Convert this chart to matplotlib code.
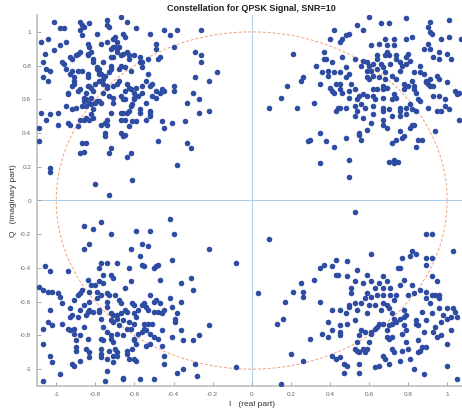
import matplotlib
matplotlib.use('Agg')
import numpy as np
from matplotlib import pyplot as plt

# received symbols (I, Q), grouped by quadrant
q1_pts = [
    (0.60, 1.09), (0.54, 1.04), (0.57, 1.01), (0.66, 1.05), (0.70, 1.05), (0.79, 1.08),
    (0.91, 1.06), (0.90, 1.03), (1.01, 1.07), (0.42, 1.01), (0.50, 0.99), (0.48, 0.98),
    (0.46, 0.96), (0.45, 0.94), (0.40, 0.96), (0.37, 0.88), (0.37, 0.84), (0.38, 0.84),
    (0.21, 0.87), (0.33, 0.80), (0.36, 0.76), (0.39, 0.77), (0.41, 0.82), (0.42, 0.76),
    (0.45, 0.76), (0.46, 0.85), (0.48, 0.79), (0.53, 0.84), (0.57, 0.83), (0.59, 0.82),
    (0.61, 0.92), (0.65, 0.93), (0.68, 0.96), (0.69, 0.92), (0.73, 0.92), (0.73, 0.96),
    (0.79, 0.96), (0.82, 0.97), (0.80, 0.87), (0.79, 0.85), (0.74, 0.86), (0.74, 0.84),
    (0.69, 0.88), (0.68, 0.86), (0.70, 0.86), (0.64, 0.86), (0.66, 0.81), (0.62, 0.81),
    (0.60, 0.80), (0.61, 0.77), (0.60, 0.72), (0.59, 0.73), (0.64, 0.84), (0.64, 0.78),
    (0.62, 0.74), (0.65, 0.73), (0.67, 0.79), (0.68, 0.76), (0.68, 0.72), (0.67, 0.68),
    (0.69, 0.67), (0.72, 0.74), (0.71, 0.81), (0.76, 0.77), (0.77, 0.80), (0.76, 0.82),
    (0.79, 0.81), (0.81, 0.83), (0.83, 0.76), (0.86, 0.80), (0.86, 0.76), (0.88, 0.75),
    (0.89, 0.71), (0.91, 0.72), (0.90, 0.69), (0.91, 0.68), (0.89, 0.70), (0.93, 0.68),
    (0.95, 0.74), (0.96, 0.72), (1.00, 0.70), (0.88, 0.90), (0.90, 0.93), (0.91, 0.90),
    (0.91, 1.00), (0.92, 0.99), (0.97, 0.96), (0.96, 0.88), (0.93, 0.85), (0.96, 0.84),
    (1.00, 0.87), (1.02, 0.84), (1.01, 0.97), (1.07, 0.96), (1.04, 0.65), (1.05, 0.63),
    (1.06, 0.64), (0.99, 0.60), (0.99, 0.56), (1.01, 0.54), (0.97, 0.53), (0.95, 0.53),
    (0.93, 0.62), (0.90, 0.55), (0.96, 0.62), (1.06, 0.48), (0.94, 0.41), (0.86, 0.59),
    (0.85, 0.60), (0.84, 0.64), (0.83, 0.68), (0.82, 0.71), (0.83, 0.66), (0.80, 0.68),
    (0.78, 0.69), (0.78, 0.66), (0.74, 0.72), (0.73, 0.63), (0.74, 0.61), (0.72, 0.60),
    (0.81, 0.57), (0.79, 0.55), (0.82, 0.54), (0.84, 0.53), (0.79, 0.51), (0.76, 0.55),
    (0.76, 0.53), (0.76, 0.50), (0.72, 0.50), (0.70, 0.54), (0.67, 0.53), (0.67, 0.55),
    (0.62, 0.56), (0.63, 0.60), (0.62, 0.62), (0.59, 0.62), (0.67, 0.61), (0.67, 0.66),
    (0.64, 0.66), (0.62, 0.66), (0.57, 0.63), (0.55, 0.62), (0.54, 0.60), (0.53, 0.56),
    (0.56, 0.57), (0.58, 0.55), (0.54, 0.53), (0.53, 0.50), (0.57, 0.49), (0.62, 0.51),
    (0.67, 0.48), (0.67, 0.45), (0.69, 0.43), (0.82, 0.45), (0.83, 0.45), (0.81, 0.43),
    (0.76, 0.41), (0.78, 0.38), (0.77, 0.37), (0.74, 0.36), (0.85, 0.36), (0.87, 0.36),
    (0.84, 0.32), (0.72, 0.34), (0.70, 0.23), (0.73, 0.24), (0.75, 0.23), (0.73, 0.22),
    (0.61, 0.46), (0.59, 0.42), (0.55, 0.40), (0.55, 0.39), (0.56, 0.36), (0.48, 0.37),
    (0.50, 0.24), (0.50, 0.14), (0.35, 0.22), (0.35, 0.40), (0.38, 0.35), (0.42, 0.32),
    (0.30, 0.36), (0.29, 0.35), (0.23, 0.55), (0.32, 0.58), (0.44, 0.55), (0.43, 0.53),
    (0.45, 0.55), (0.48, 0.55), (0.50, 0.61), (0.50, 0.65), (0.46, 0.64), (0.45, 0.66),
    (0.42, 0.64), (0.41, 0.65), (0.40, 0.67), (0.43, 0.69), (0.45, 0.69), (0.48, 0.73),
    (0.50, 0.75), (0.51, 0.69), (0.53, 0.66), (0.35, 0.69), (0.39, 0.74), (0.26, 0.73),
    (0.25, 0.71), (0.18, 0.68), (0.15, 0.61), (0.09, 0.55), (0.56, 0.80), (0.59, 0.77),
]

q2_pts = [
    (-1.01, 1.06), (-0.98, 1.02), (-0.96, 1.02), (-1.04, 0.96), (-1.08, 0.94), (-1.01, 0.89),
    (-0.98, 0.92), (-0.95, 0.94), (-1.06, 0.87), (-1.07, 0.82), (-1.05, 0.78), (-1.07, 0.73),
    (-1.04, 0.71), (-1.03, 0.77), (-0.97, 0.82), (-0.96, 0.81), (-0.95, 0.78), (-0.93, 0.85),
    (-0.92, 0.84), (-0.93, 0.75), (-0.92, 0.77), (-0.91, 0.73), (-0.91, 0.71), (-0.92, 0.68),
    (-0.94, 0.64), (-0.94, 0.63), (-0.95, 0.56), (-0.99, 0.52), (-1.08, 0.52), (-1.03, 0.51),
    (-1.05, 0.48), (-0.99, 0.45), (-0.94, 0.46), (-0.93, 0.45), (-1.09, 0.43), (-1.09, 0.35),
    (-1.03, 0.19), (-1.03, 0.17), (-0.89, 0.44), (-0.90, 0.55), (-0.88, 1.06), (-0.87, 1.04),
    (-0.86, 1.03), (-0.88, 1.01), (-0.87, 0.98), (-0.83, 1.05), (-0.89, 0.87), (-0.88, 0.88),
    (-0.90, 0.86), (-0.89, 0.77), (-0.87, 0.77), (-0.84, 0.93), (-0.83, 0.91), (-0.84, 0.87),
    (-0.84, 0.86), (-0.82, 0.88), (-0.81, 0.84), (-0.81, 0.82), (-0.79, 0.99), (-0.74, 1.07),
    (-0.74, 1.04), (-0.73, 1.03), (-0.77, 0.93), (-0.74, 0.94), (-0.72, 0.90), (-0.71, 0.91),
    (-0.70, 0.91), (-0.67, 1.09), (-0.71, 0.96), (-0.70, 0.97), (-0.66, 0.99), (-0.65, 0.97),
    (-0.64, 1.06), (-0.59, 1.02), (-0.69, 0.94), (-0.68, 0.91), (-0.69, 0.90), (-0.69, 0.88),
    (-0.67, 0.86), (-0.66, 0.87), (-0.64, 0.88), (-0.63, 0.86), (-0.63, 0.84), (-0.72, 0.85),
    (-0.71, 0.85), (-0.72, 0.80), (-0.72, 0.78), (-0.73, 0.76), (-0.75, 0.74), (-0.76, 0.82),
    (-0.79, 0.79), (-0.79, 0.78), (-0.78, 0.78), (-0.78, 0.76), (-0.77, 0.75), (-0.78, 0.75),
    (-0.76, 0.72), (-0.78, 0.71), (-0.84, 0.75), (-0.84, 0.73), (-0.82, 0.67), (-0.81, 0.65),
    (-0.85, 0.64), (-0.86, 0.61), (-0.86, 0.59), (-0.85, 0.60), (-0.83, 0.58), (-0.82, 0.57),
    (-0.84, 0.68), (-0.83, 0.68), (-0.80, 0.69), (-0.76, 0.69), (-0.74, 0.68), (-0.74, 0.67),
    (-0.76, 0.64), (-0.78, 0.59), (-0.77, 0.58), (-0.73, 0.62), (-0.71, 0.61), (-0.71, 0.58),
    (-0.71, 0.68), (-0.68, 0.78), (-0.67, 0.80), (-0.65, 0.79), (-0.62, 0.77), (-0.69, 0.69),
    (-0.68, 0.71), (-0.64, 0.69), (-0.63, 0.67), (-0.65, 0.65), (-0.62, 0.66), (-0.67, 0.62),
    (-0.66, 0.60), (-0.65, 0.60), (-0.60, 0.64), (-0.59, 0.67), (-0.60, 0.61), (-0.60, 0.60),
    (-0.58, 0.62), (-0.56, 0.64), (-0.56, 0.68), (-0.54, 0.71), (-0.53, 0.75), (-0.52, 0.68),
    (-0.51, 0.69), (-0.54, 0.58), (-0.51, 0.62), (-0.49, 0.61), (-0.52, 0.53), (-0.52, 0.50),
    (-0.52, 0.52), (-0.54, 0.48), (-0.57, 0.52), (-0.57, 0.54), (-0.61, 0.57), (-0.62, 0.56),
    (-0.63, 0.53), (-0.66, 0.52), (-0.67, 0.52), (-0.67, 0.48), (-0.65, 0.48), (-0.64, 0.52),
    (-0.72, 0.52), (-0.74, 0.48), (-0.75, 0.46), (-0.74, 0.45), (-0.77, 0.45), (-0.79, 0.59),
    (-0.80, 0.58), (-0.81, 0.54), (-0.82, 0.51), (-0.81, 0.49), (-0.83, 0.48), (-0.86, 0.48),
    (-0.85, 0.49), (-0.88, 0.48), (-0.92, 0.54), (-0.87, 0.56), (-0.82, 0.61), (-0.85, 0.56),
    (-0.88, 0.66), (-0.89, 0.65), (-0.91, 0.69), (-0.75, 0.38), (-0.75, 0.40), (-0.67, 0.40),
    (-0.65, 0.39), (-0.66, 0.38), (-0.63, 0.44), (-0.61, 0.47), (-0.59, 0.47), (-0.64, 0.26),
    (-0.62, 0.28), (-0.72, 0.31), (-0.73, 0.28), (-0.61, 0.12), (-0.73, 0.03), (-0.80, 0.10),
    (-0.87, 0.34), (-0.85, 0.34), (-0.88, 0.28), (-0.86, 0.29), (-0.48, 0.35), (-0.49, 0.65),
    (-0.47, 0.64), (-0.49, 0.93), (-0.49, 0.90), (-0.52, 0.99), (-0.45, 1.01), (-0.42, 0.98),
    (-0.38, 1.01), (-0.40, 0.91), (-0.48, 0.84), (-0.47, 0.85), (-0.53, 0.84), (-0.57, 0.85),
    (-0.57, 0.82), (-0.56, 0.82), (-0.56, 0.79), (-0.60, 0.86), (-0.46, 0.66), (-0.45, 0.65),
    (-0.40, 0.65), (-0.40, 0.68), (-0.41, 0.46), (-0.46, 0.47), (-0.45, 0.43), (-0.38, 0.21),
    (-0.34, 0.47), (-0.33, 0.34), (-0.31, 0.31), (-0.33, 0.58), (-0.30, 0.64), (-0.29, 0.88),
    (-0.29, 0.73), (-0.26, 0.82), (-0.26, 1.01), (-0.26, 0.86), (-0.27, 0.60), (-0.27, 0.52),
    (-0.22, 0.71), (-0.22, 0.53), (-0.18, 0.76),
]

q3_pts = [
    (-0.42, -0.11), (-0.40, -0.20), (-0.52, -0.18), (-0.59, -0.18), (-0.77, -0.13), (-0.72, -0.20),
    (-0.81, -0.17), (-0.86, -0.15), (-0.86, -0.29), (-0.83, -0.26), (-0.56, -0.26), (-0.53, -0.27),
    (-0.62, -0.29), (-0.57, -0.33), (-0.41, -0.35), (-0.22, -0.29), (-0.08, -0.37), (-0.56, -0.38),
    (-0.55, -0.39), (-0.63, -0.40), (-0.49, -0.39), (-0.48, -0.38), (-0.50, -0.40), (-0.69, -0.37),
    (-0.74, -0.37), (-0.77, -0.37), (-0.78, -0.40), (-0.76, -0.44), (-0.72, -0.44), (-0.71, -0.46),
    (-1.06, -0.39), (-1.03, -0.42), (-0.94, -0.42), (-1.09, -0.51), (-1.07, -0.53), (-1.04, -0.54),
    (-1.02, -0.54), (-0.99, -0.55), (-0.98, -0.57), (-0.97, -0.61), (-1.03, -0.65), (-1.04, -0.72),
    (-1.02, -0.74), (-1.07, -0.76), (-1.07, -0.85), (-1.03, -0.92), (-1.02, -0.96), (-0.98, -1.03),
    (-1.07, -1.07), (-0.97, -0.73), (-0.93, -0.69), (-0.92, -0.68), (-0.94, -0.76), (-0.93, -0.77),
    (-0.91, -0.79), (-0.91, -0.76), (-0.93, -0.64), (-0.91, -0.59), (-0.89, -0.56), (-0.88, -0.55),
    (-0.87, -0.53), (-0.88, -0.65), (-0.86, -0.62), (-0.89, -0.69), (-0.85, -0.68), (-0.86, -0.75),
    (-0.88, -0.80), (-0.90, -0.83), (-0.90, -0.87), (-0.90, -0.89), (-0.84, -0.82), (-0.85, -0.88),
    (-0.83, -0.90), (-0.83, -0.93), (-0.88, -0.95), (-0.92, -0.97), (-0.91, -0.98), (-0.84, -0.66),
    (-0.83, -0.60), (-0.83, -0.65), (-0.81, -0.66), (-0.80, -0.50), (-0.82, -0.50), (-0.83, -0.54),
    (-0.84, -0.47), (-0.78, -0.48), (-0.76, -0.49), (-0.77, -0.56), (-0.79, -0.54), (-0.79, -0.58),
    (-0.78, -0.66), (-0.78, -0.65), (-0.77, -0.70), (-0.76, -0.75), (-0.74, -0.78), (-0.74, -0.55),
    (-0.73, -0.56), (-0.74, -0.60), (-0.70, -0.56), (-0.74, -0.63), (-0.72, -0.67), (-0.71, -0.68),
    (-0.72, -0.71), (-0.71, -0.72), (-0.69, -0.68), (-0.69, -0.70), (-0.67, -0.67), (-0.67, -0.61),
    (-0.65, -0.65), (-0.64, -0.66), (-0.66, -0.71), (-0.63, -0.72), (-0.68, -0.74), (-0.69, -0.79),
    (-0.66, -0.80), (-0.77, -0.82), (-0.76, -0.83), (-0.77, -0.88), (-0.77, -0.91), (-0.77, -0.93),
    (-0.74, -0.94), (-0.72, -0.82), (-0.72, -0.80), (-0.71, -0.84), (-0.73, -0.89), (-0.70, -0.88),
    (-0.69, -0.90), (-0.71, -0.92), (-0.71, -0.96), (-0.74, -1.01), (-0.75, -1.07), (-0.69, -0.92),
    (-0.66, -1.05), (-0.66, -1.06), (-0.64, -0.89), (-0.64, -0.91), (-0.63, -0.94), (-0.61, -0.88),
    (-0.60, -0.83), (-0.60, -0.82), (-0.59, -0.85), (-0.60, -0.94), (-0.59, -0.95), (-0.57, -1.06),
    (-0.64, -0.76), (-0.62, -0.76), (-0.60, -0.73), (-0.58, -0.79), (-0.56, -0.78), (-0.55, -0.76),
    (-0.54, -0.77), (-0.55, -0.73), (-0.61, -0.61), (-0.60, -0.62), (-0.58, -0.65), (-0.60, -0.67),
    (-0.59, -0.69), (-0.55, -0.61), (-0.54, -0.63), (-0.53, -0.65), (-0.56, -0.62), (-0.52, -0.56),
    (-0.52, -0.79), (-0.51, -0.73), (-0.53, -0.73), (-0.50, -0.66), (-0.50, -0.60), (-0.49, -0.59),
    (-0.48, -0.66), (-0.46, -0.77), (-0.48, -0.82), (-0.50, -0.81), (-0.52, -0.85), (-0.54, -0.86),
    (-0.50, -1.06), (-0.45, -0.92), (-0.45, -0.97), (-0.46, -0.86), (-0.41, -0.81), (-0.47, -0.61),
    (-0.46, -0.67), (-0.45, -0.65), (-0.42, -0.58), (-0.41, -0.63), (-0.39, -0.70), (-0.39, -0.72),
    (-0.38, -0.67), (-0.36, -0.60), (-0.36, -0.77), (-0.35, -0.83), (-0.36, -0.49), (-0.30, -0.53),
    (-0.31, -0.46), (-0.29, -0.97), (-0.28, -1.04), (-0.30, -0.83), (-0.27, -0.80), (-0.22, -0.74),
    (-0.38, -1.02), (-0.35, -1.00), (-0.08, -0.99), (-0.47, -0.47), (-0.65, -0.52), (-0.62, -0.48),
    (-0.68, -0.59),
]

q4_pts = [
    (0.53, -0.07), (0.09, -0.23), (0.03, -0.55), (0.13, -0.73), (0.16, -0.70), (0.17, -0.60),
    (0.21, -0.54), (0.25, -0.49), (0.26, -0.54), (0.26, -0.57), (0.32, -0.47), (0.35, -0.60),
    (0.35, -0.40), (0.37, -0.38), (0.41, -0.39), (0.43, -0.35), (0.43, -0.44), (0.44, -0.44),
    (0.49, -0.36), (0.54, -0.41), (0.53, -0.48), (0.51, -0.52), (0.51, -0.55), (0.50, -0.62),
    (0.50, -0.63), (0.48, -0.67), (0.45, -0.65), (0.41, -0.65), (0.39, -0.72), (0.49, -0.73),
    (0.53, -0.71), (0.54, -0.65), (0.53, -0.61), (0.56, -0.61), (0.57, -0.49), (0.59, -0.44),
    (0.61, -0.48), (0.61, -0.32), (0.59, -0.55), (0.58, -0.58), (0.60, -0.62), (0.61, -0.57),
    (0.59, -0.67), (0.64, -0.56), (0.63, -0.52), (0.63, -0.62), (0.65, -0.49), (0.67, -0.45),
    (0.69, -0.48), (0.67, -0.52), (0.67, -0.56), (0.67, -0.61), (0.69, -0.62), (0.70, -0.64),
    (0.66, -0.65), (0.71, -0.52), (0.71, -0.56), (0.73, -0.59), (0.74, -0.56), (0.76, -0.50),
    (0.78, -0.47), (0.76, -0.40), (0.75, -0.40), (0.77, -0.34), (0.82, -0.30), (0.81, -0.33),
    (0.84, -0.32), (0.89, -0.34), (0.89, -0.38), (0.92, -0.34), (0.89, -0.20), (0.92, -0.20),
    (1.03, -0.30), (0.92, -0.45), (0.95, -0.48), (0.86, -0.53), (0.80, -0.56), (0.82, -0.50),
    (0.83, -0.55), (0.89, -0.54), (0.89, -0.58), (0.92, -0.56), (0.94, -0.56), (0.96, -0.56),
    (0.96, -0.58), (0.91, -0.61), (0.96, -0.64), (1.00, -0.64), (1.03, -0.64), (1.04, -0.66),
    (1.05, -0.69), (1.02, -0.69), (1.00, -0.70), (0.98, -0.68), (0.97, -0.72), (0.94, -0.75),
    (0.93, -0.78), (0.95, -0.81), (0.97, -0.80), (1.02, -0.77), (1.00, -0.85), (0.92, -0.67),
    (0.89, -0.71), (0.87, -0.66), (0.84, -0.71), (0.84, -0.73), (0.85, -0.74), (0.88, -0.78),
    (0.79, -0.68), (0.78, -0.69), (0.76, -0.70), (0.73, -0.70), (0.74, -0.72), (0.78, -0.74),
    (0.72, -0.67), (0.78, -0.65), (0.77, -0.79), (0.72, -0.73), (0.70, -0.74), (0.69, -0.77),
    (0.69, -0.81), (0.70, -0.82), (0.72, -0.81), (0.67, -0.73), (0.65, -0.73), (0.64, -0.75),
    (0.63, -0.76), (0.61, -0.78), (0.61, -0.79), (0.60, -0.84), (0.58, -0.78), (0.56, -0.77),
    (0.55, -0.80), (0.54, -0.84), (0.53, -0.88), (0.54, -0.89), (0.55, -0.90), (0.57, -0.88),
    (0.58, -0.90), (0.59, -0.88), (0.55, -0.97), (0.55, -1.02), (0.63, -0.99), (0.65, -0.98),
    (0.67, -0.92), (0.68, -0.94), (0.70, -0.97), (0.72, -0.88), (0.73, -0.90), (0.76, -0.95),
    (0.77, -0.89), (0.80, -0.88), (0.81, -0.94), (0.83, -1.00), (0.85, -0.90), (0.86, -0.89),
    (0.87, -0.87), (0.89, -0.87), (0.85, -0.83), (0.79, -0.84), (0.88, -1.03), (1.00, -0.98),
    (1.05, -1.06), (0.79, -0.77), (0.45, -0.78), (0.41, -0.77), (0.45, -0.80), (0.36, -0.79),
    (0.30, -0.82), (0.39, -0.81), (0.41, -0.92), (0.43, -0.94), (0.45, -0.93), (0.47, -0.97),
    (0.49, -0.98), (0.47, -1.02), (0.20, -0.91), (0.26, -0.95), (0.15, -1.09), (0.49, -0.45),
    (0.45, -0.74),
]

title_text = 'Constellation for QPSK Signal, SNR=10'
xlabel_text = 'I   (real part)'
ylabel_text = 'Q   (imaginary part)'
tick_vals = np.round(np.arange(-1.0, 1.01, 0.2), 1)

pts = np.array(q1_pts + q2_pts + q3_pts + q4_pts)

plt.rcParams['font.family'] = ['Liberation Sans', 'DejaVu Sans']

fig = plt.figure(figsize=(4.62, 4.11), dpi=100)
ax = fig.add_axes([36.7 / 462, 25 / 411, 430 / 462, 371 / 411])

# reference unit circle and axes through origin
theta = np.linspace(0, 2 * np.pi, 400)
ax.plot(np.cos(theta), np.sin(theta), color='#F2A07B', lw=0.7,
        linestyle=(0, (3, 2)), zorder=1)
ax.axhline(0, color='#A9CDEA', lw=0.7, zorder=1)
ax.axvline(0, color='#A9CDEA', lw=0.7, zorder=1)

ax.scatter(pts[:, 0], pts[:, 1], s=16, color='#2E4CA2', linewidths=0, zorder=3)

ax.set_xlim(-1.1, 1.1)
ax.set_ylim(-1.1, 1.1)

def fmt(v):
    return '0' if v == 0 else ('%g' % v)

ax.set_xticks(tick_vals)
ax.set_xticklabels([fmt(v) for v in tick_vals])
ax.set_yticks(tick_vals)
ax.set_yticklabels([fmt(v) for v in tick_vals])
ax.tick_params(direction='in', length=3, width=0.6, labelsize=4.6,
               colors='#9A9A9A', labelcolor='#666666', pad=4)

for s in ['top', 'right']:
    ax.spines[s].set_visible(False)
for s in ['left', 'bottom']:
    ax.spines[s].set_color('#BDBDBD')
    ax.spines[s].set_linewidth(1.2)

ax.set_title(title_text, fontsize=6.5, fontweight='bold', pad=3, color='#222222')
ax.set_xlabel(xlabel_text, fontsize=6, color='#333333', labelpad=3)
ax.set_ylabel(ylabel_text, fontsize=6, color='#333333', labelpad=2)

fig.savefig('out.png', dpi=100)
